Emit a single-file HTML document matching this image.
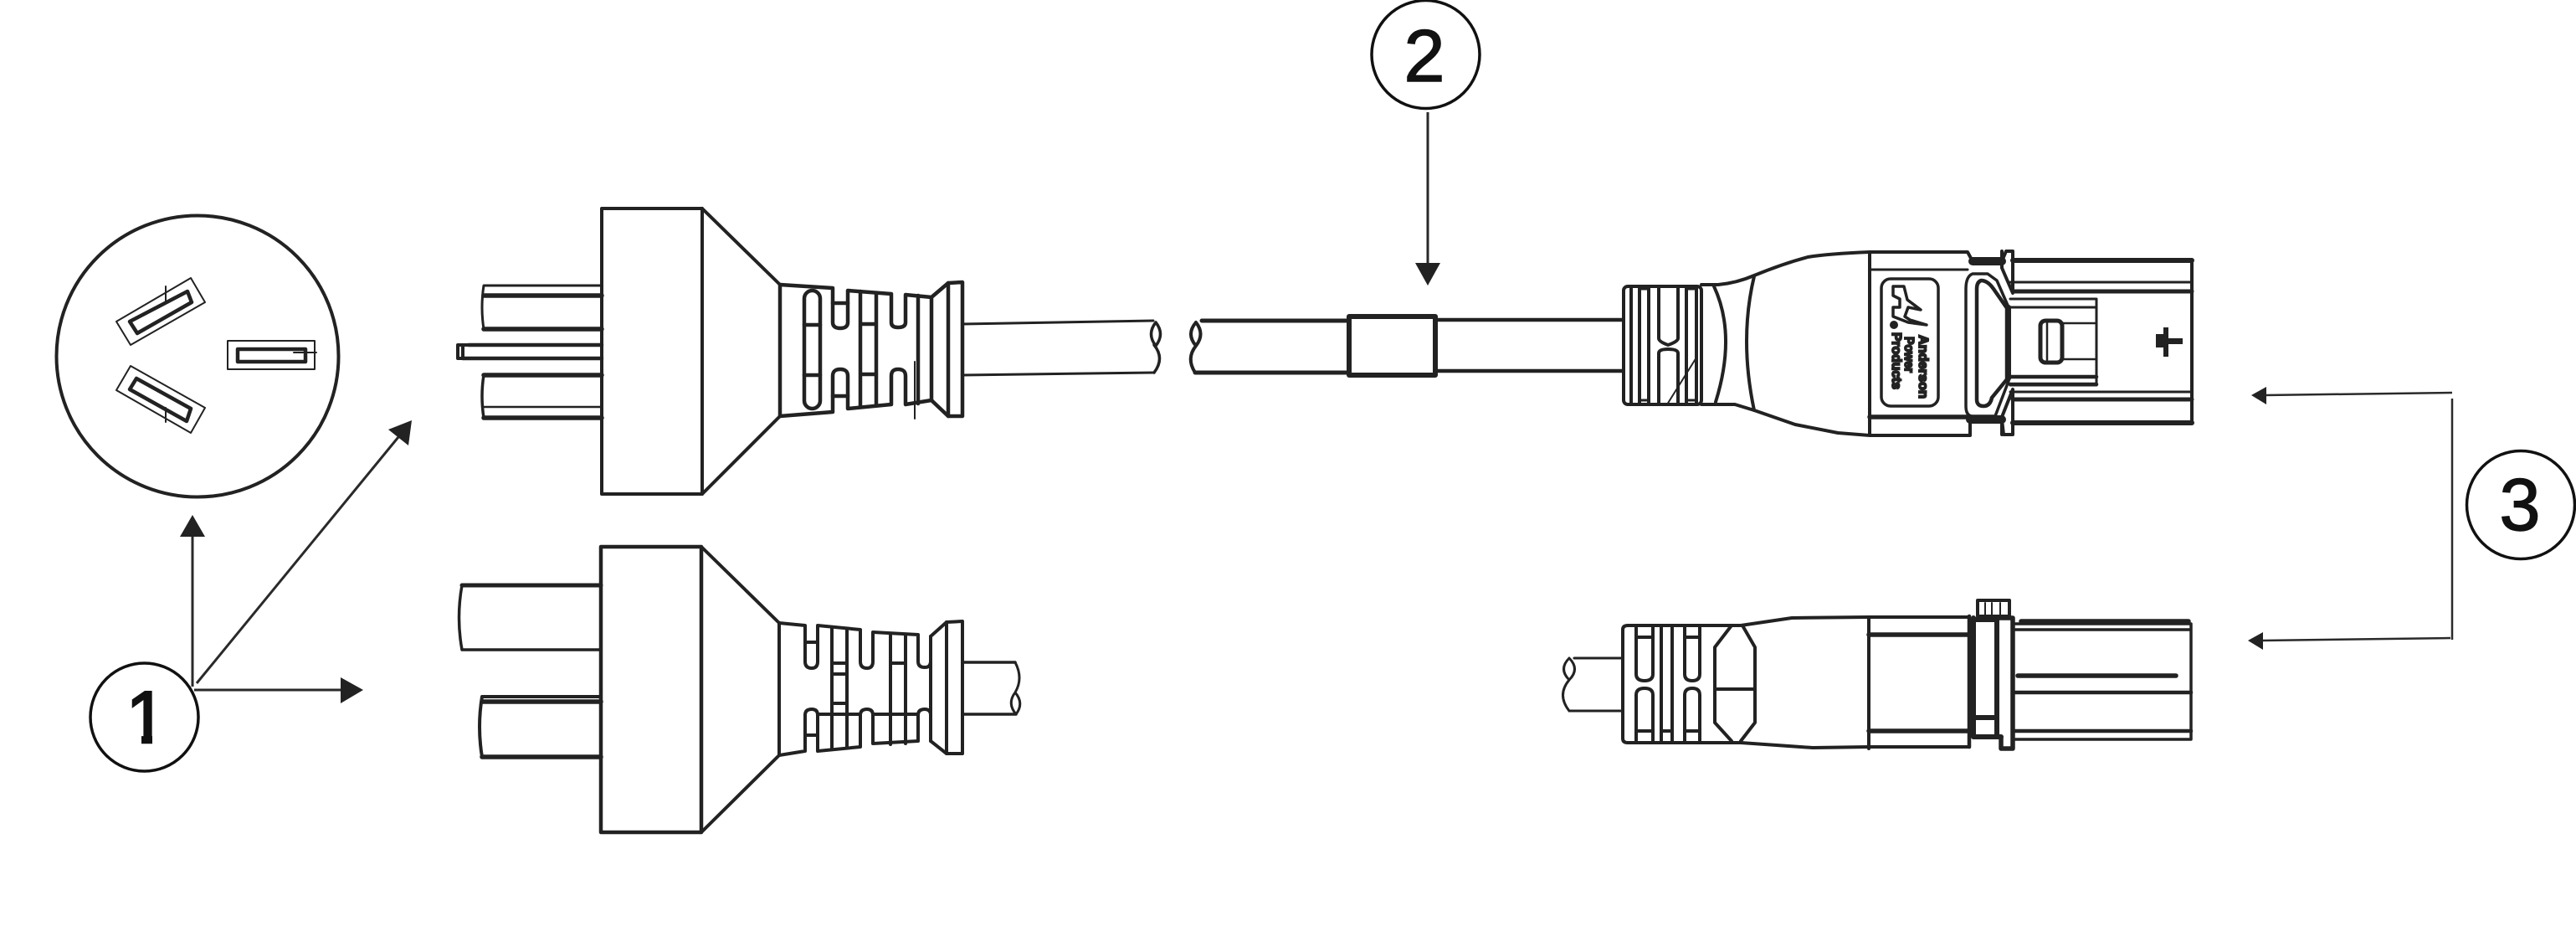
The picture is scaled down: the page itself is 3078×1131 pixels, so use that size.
<!DOCTYPE html>
<html><head><meta charset="utf-8"><title>Power cord diagram</title>
<style>html,body{margin:0;padding:0;background:#fff}svg{display:block}</style></head>
<body>
<svg xmlns="http://www.w3.org/2000/svg" width="3078" height="1131" viewBox="0 0 3078 1131">
<rect width="3078" height="1131" fill="#fff"/>
<g fill="none" stroke="#222" stroke-width="4" stroke-linejoin="round" stroke-linecap="round">

<!-- socket face -->
<ellipse cx="236" cy="425.5" rx="168.5" ry="168"/>
<g stroke-width="2"><polygon points="228,332 245,361 156,412 139,384"/>
<polygon points="156,437 245,487 228,517 139,466"/><rect x="272" y="407" width="104" height="34"/>
<path d="M198,342V360M198,487V504M351,421H378"/></g>
<g stroke-width="4.5"><polygon points="224,348 229,361 164,398 155,384"/>
<polygon points="163,452 228,488 223,503 155,465"/><rect x="284" y="417" width="81" height="15"/></g>

<!-- plug 1 -->
<rect x="719" y="249" width="120" height="341"/>
<path d="M839,249L931,339M839,590L931,498"/>
<path d="M719,341H578Q574,367 578,393H719" stroke-width="3"/>
<path d="M578,353H719M578,393H719" stroke-width="5.5"/>
<path d="M719,412H547V428H719M553,412V428"/>
<path d="M719,412H560M553,428H719" stroke-width="4.5"/>
<path d="M719,448H578Q574,473 578,499H719" stroke-width="3.5"/>
<path d="M578,448H719M578,499H719" stroke-width="5.5"/>
<path d="M578,486H719" stroke-width="2.5"/>
<g stroke-width="4.5">
<path d="M932,340V497"/>
<path d="M932,340L995,344V385Q995,392 1004,392Q1013,392 1013,385V347L1065,351V385Q1065,391 1073,391Q1082,391 1082,385V352L1113,355L1133,338L1150,337V497H1133L1115,480L1113,478L1082,483V449Q1082,441 1073,441Q1065,441 1065,449V483L1013,488V449Q1013,441 1004,441Q995,441 995,449V492L932,497"/>
<rect x="961" y="347" width="19" height="141" rx="9.5"/>
<path d="M961,388H980M961,448H980M995,362H1013M995,473H1013M1028,348V485M1047,350V484M1028,387H1047M1028,447H1047M1097,353V482M1113,355V478M1133,338V497"/>
</g>
<path d="M1093,432V500" stroke-width="2"/>
<!-- main cable left -->
<path d="M1150,387L1378,383M1150,448L1378,445" stroke-width="3"/>
<path d="M1381,385Q1370,399 1381,413Q1392,399 1381,385M1379,412Q1392,428 1379,445" stroke-width="3.5"/>
<path d="M1429,385Q1417,399 1429,413Q1440,399 1429,385M1429,413Q1417,428 1428,445" stroke-width="4"/>
<path d="M1436,383H1612M1428,445H1612" stroke-width="5"/>
<rect x="1612" y="378" width="103" height="70" stroke-width="6"/>
<path d="M1715,382H1939M1715,443H1939" stroke-width="4.5"/>

<!-- plug 2 -->
<rect x="718" y="653" width="120" height="341" stroke-width="4.5"/>
<path d="M838,653L931,744M838,994L931,902M931,744V902"/>
<path d="M718,699H552Q545,738 552,776H718" stroke-width="3.5"/>
<path d="M552,699H718" stroke-width="5"/>
<path d="M718,832H576Q570,868 576,904H718"/>
<path d="M576,838H718M576,904H718" stroke-width="5.5"/>
<g stroke-width="4">
<path d="M931,744L962,747V790Q962,798 970,798Q977,798 977,790V747L1028,752V790Q1028,798 1036,798Q1043,798 1043,790V755L1097,758V790Q1097,797 1105,797Q1112,797 1112,790V760L1131,743L1150,742V900H1131L1112,885V854Q1112,847 1105,847Q1097,847 1097,854V885L1043,888V854Q1043,847 1036,847Q1028,847 1028,854V892L977,897V854Q977,847 970,847Q962,847 962,854V897L931,902"/>
<path d="M962,767H977M962,878H977M994,750V894M1012,752V893M994,792H1012M994,805H1012M994,840H1012M994,853H1012M1064,757V889M1082,758V888M1064,792H1082M1064,853H1082M1112,760V885M1131,743V900M1043,853H1064M1082,853H1097M977,853H994M1012,853H1028"/>
</g>
<path d="M1150,791H1213M1150,853H1214" stroke-width="3.5"/>
<path d="M1213,791Q1223,810 1213,827Q1203,840 1214,853Q1224,840 1213,827" stroke-width="3"/>

<!-- connector top -->
<g stroke-width="4">
<rect x="1940" y="342" width="93" height="141" rx="5"/>
<path d="M1949,342V483M1959,344V481M1970,344V481M1982,342V404Q1982,408 1993,412Q2005,408 2005,404V342M1982,483V422Q1982,417 1993,417Q2005,417 2005,422V483M2015,344V481M2027,344V481"/>
<path d="M1959,345H1970M1959,478H1970M2015,345H2027M2015,478H2027" stroke-width="3"/>
<path d="M1992,483L2027,427" stroke-width="2"/>
<path d="M2033,340H2053Q2075,338 2096,329Q2130,315 2160,307Q2185,303 2234,301H2351L2357,312H2392L2397,300H2405V311H2619V505H2405V519H2394L2392,501H2354V520H2234L2196,517L2145,507L2096,490L2073,483H2033"/>
<path d="M2048,342Q2075,400 2050,480M2096,330Q2078,405 2096,490M2234,301V518"/>
<path d="M2234,322H2351" stroke-width="3"/>
<path d="M2234,498H2354" stroke-width="5.5"/>
<rect x="2248" y="333" width="68" height="152" rx="11" stroke-width="3.5"/>
<path d="M2357,312H2392M2354,501H2392" stroke-width="10"/>
<path d="M2392,300V320L2405,350V311M2392,519V498L2405,465V505" stroke-width="4"/>
<path d="M2357,327Q2349,330 2349,345V485Q2349,497 2357,497H2384L2400,455V367L2386,335L2375,327Z" stroke-width="3.5"/>
<path d="M2367,335Q2362,337 2362,345V477Q2362,485 2370,485Q2378,485 2380,475L2398,453V368L2382,345Q2375,335 2367,335Z" stroke-width="4.5"/>
<path d="M2402,337H2619M2402,468H2619" stroke-width="3"/>
<path d="M2405,348H2619M2405,477H2619" stroke-width="5"/>
<path d="M2405,311H2619M2405,505H2619" stroke-width="6"/>
<path d="M2402,357H2505V460H2402M2400,367H2505" stroke-width="3"/>
<path d="M2402,450H2505M2402,459H2505" stroke-width="4.5"/>
<path d="M2400,367V452" stroke-width="6"/>
<rect x="2438" y="383" width="26" height="50" rx="6" stroke-width="5"/>
<path d="M2446,386V430M2464,386H2505M2464,429H2505" stroke-width="2.5"/>
</g>
<path d="M2262,342H2275L2279,358L2295,370L2280,367L2276,378L2282,382L2302,388L2280,385L2262,378V367H2270V357L2262,353Z" stroke-width="3.5"/>
<circle cx="2263" cy="388" r="5" fill="#222" stroke="none"/>
</g>
<g fill="#222">
<rect x="2576" y="399" width="15" height="16"/>
<rect x="2585" y="391" width="6" height="35"/>
<rect x="2590" y="404" width="18" height="7"/>
</g>
<g font-family="'Liberation Sans',sans-serif" font-weight="700" fill="#222" stroke="#222" stroke-width="2">
<text transform="translate(2293,400) rotate(90)" font-size="16" textLength="76" lengthAdjust="spacingAndGlyphs">Anderson</text>
<text transform="translate(2276,402) rotate(90)" font-size="16" textLength="43" lengthAdjust="spacingAndGlyphs">Power</text>
<text transform="translate(2261,397) rotate(90)" font-size="16" textLength="68" lengthAdjust="spacingAndGlyphs">Products</text>
</g>
<g fill="none" stroke="#222" stroke-width="4" stroke-linejoin="round" stroke-linecap="round">

<!-- connector bottom -->
<path d="M1881,786H1939M1875,849H1939" stroke-width="3"/>
<path d="M1875,786Q1862,799 1875,812Q1888,799 1875,786M1875,812Q1860,830 1875,849" stroke-width="3"/>
<g stroke-width="4">
<path d="M1939,752Q1939,747 1945,747H2080L2141,738L2233,737H2353V892H2233L2166,893L2080,887H1945Q1939,887 1939,882Z"/>
<path d="M1955,747V805Q1955,813 1965,813Q1975,813 1975,805V747M2013,747V805Q2013,813 2022,813Q2031,813 2031,805V747M1955,887V830Q1955,822 1965,822Q1975,822 1975,830V887M2013,887V830Q2013,822 2022,822Q2031,822 2031,830V887M1985,747V887M1998,747V887"/>
<path d="M1955,761H1975M2013,761H2029M1955,873H1975M1985,873H1998M2013,873H2031"/>
<path d="M2069,747L2049,773V863L2069,885M2082,747L2097,773V863L2080,885M2049,823H2097M2233,737V894"/>
<path d="M2233,758H2353M2233,873H2353" stroke-width="5.5"/>
<path d="M2353,736V892" stroke-width="4.5"/>
<path d="M2358,738V880M2386,738V880M2358,740H2386M2358,857H2386M2358,880H2391" stroke-width="6"/>
<path d="M2391,880V894H2405V738H2386" stroke-width="5.5"/>
<rect x="2363" y="717" width="38" height="19"/>
<path d="M2372,720V735M2380,720V735M2390,720V735" stroke-width="2"/>
<path d="M2405,745H2618V883H2405M2405,752H2618" stroke-width="3.5"/>
<path d="M2415,742H2615M2411,807H2600" stroke-width="5.5"/>
<path d="M2405,827H2618M2405,873H2618" stroke-width="4.5"/>
</g>
</g>

<!-- callouts -->
<g fill="none" stroke="#111" stroke-width="3.5">
<circle cx="172.5" cy="856.5" r="64.5"/>
<circle cx="1703.5" cy="65" r="64.5"/>
<circle cx="3012" cy="603" r="64.5"/>
</g>
<g font-family="'Liberation Sans',sans-serif" font-size="88" fill="#111" stroke="#111" text-anchor="middle">
<text x="175" y="887" stroke-width="2.5">1</text>
<text x="1702" y="97" stroke-width="1.5">2</text>
<text x="3011" y="633" stroke-width="1.5">3</text>
</g>
<rect x="148" y="879" width="21" height="12" fill="#fff"/>
<rect x="182" y="879" width="21" height="12" fill="#fff"/>
<g stroke="#2a2a2a" stroke-width="3" fill="none">
<path d="M230,820V640M235,816L476,522M232,824H408M1706,134V315"/>
<path d="M2706,472L2930,469M2930,476V764M2702,765L2928,762" stroke-width="2.5"/>
</g>
<g fill="#222">
<polygon points="230,615 245,641 215,641"/>
<polygon points="492,502 488,532 464,513"/>
<polygon points="434,824 407,809 407,840"/>
<polygon points="1706,341 1691,314 1721,314"/>
<polygon points="2690,472 2708,462 2708,483"/>
<polygon points="2686,765 2704,755 2704,776"/>
</g>
</svg>
</body></html>
